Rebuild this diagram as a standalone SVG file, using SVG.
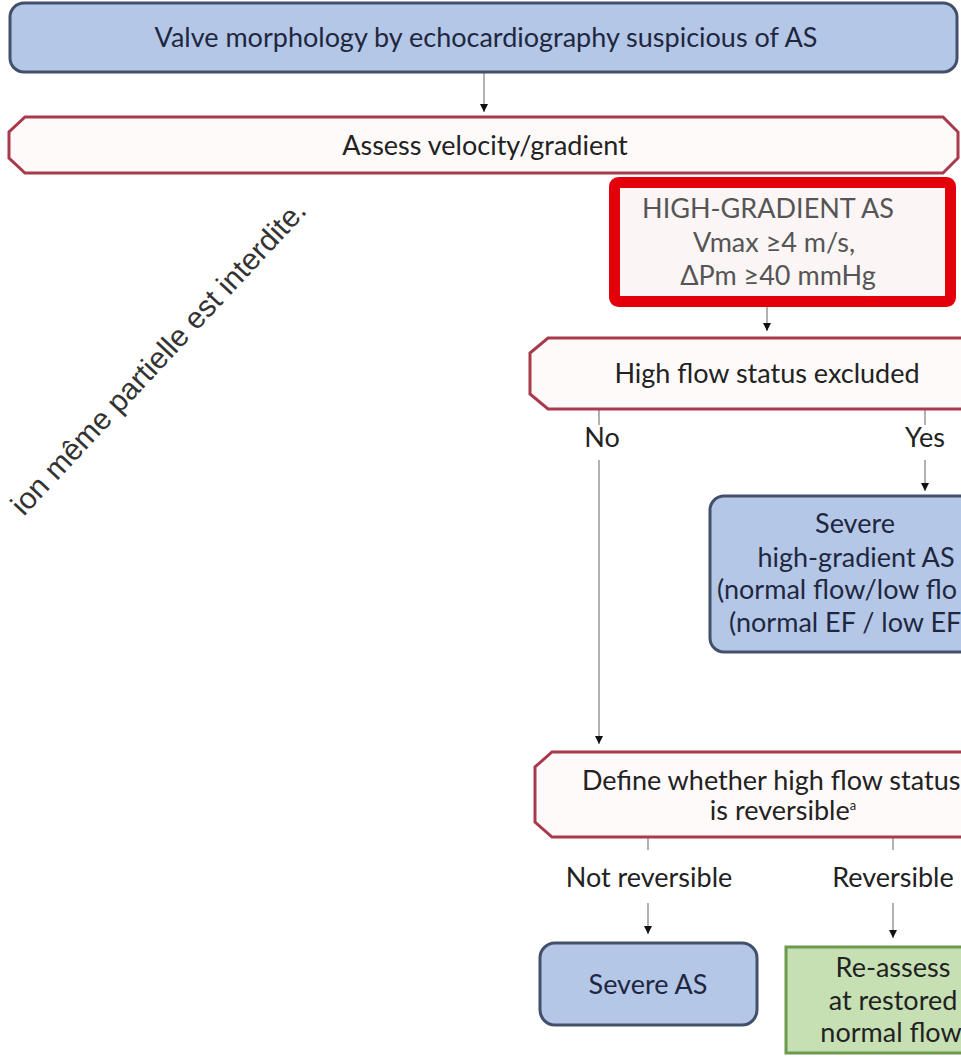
<svg xmlns="http://www.w3.org/2000/svg" width="961" height="1057" viewBox="0 0 961 1057">
<defs>
<marker id="ah" viewBox="0 0 10 10" refX="10" refY="5" markerWidth="9" markerHeight="8" markerUnits="userSpaceOnUse" orient="auto"><path d="M0,0 L10,5 L0,10 z" fill="#111"/></marker>
<style>
.t{font-family:Lato,"Liberation Sans",sans-serif;font-size:27px;fill:#222;text-anchor:middle}
.ts{text-anchor:start}
.blue{fill:#b4c7e7;stroke:#43506b;stroke-width:3}
.hex{fill:#fffafa;stroke:#a83a4c;stroke-width:3}
.green{fill:#c6e0b4;stroke:#6b9a4c;stroke-width:3}
.red{fill:#fbf5f5;stroke:#e3000b;stroke-width:11}
.grey{fill:#555}
.navy{fill:#1f2740}
.conn line{stroke:#888;stroke-width:1.3}
.wm{font-family:"Liberation Sans",Arial,sans-serif;font-size:30px;fill:#333}
</style>
</defs>
<rect width="961" height="1057" fill="#fff"/>
<text class="wm" text-anchor="end" transform="translate(308,212) rotate(-47)">ion même partielle est interdite.</text>

<g id="connectors" class="conn">
<line x1="484" y1="72" x2="484" y2="112" marker-end="url(#ah)"/>
<line x1="767" y1="307" x2="767" y2="331" marker-end="url(#ah)"/>
<line x1="599" y1="410" x2="599" y2="425"/>
<line x1="599" y1="460" x2="599" y2="744" marker-end="url(#ah)"/>
<line x1="925" y1="410" x2="925" y2="425"/>
<line x1="925" y1="460" x2="925" y2="491" marker-end="url(#ah)"/>
<line x1="648" y1="837" x2="648" y2="850"/>
<line x1="648" y1="903" x2="648" y2="934" marker-end="url(#ah)"/>
<line x1="893" y1="837" x2="893" y2="850"/>
<line x1="893" y1="903" x2="893" y2="938" marker-end="url(#ah)"/>
</g>

<g id="n1">
<rect class="blue" x="10" y="3" width="947" height="69" rx="14"/>
<text class="t navy" x="486" y="47">Valve morphology by echocardiography suspicious of AS</text>
</g>
<g id="n2">
<polygon class="hex" points="25,117 943,117 958,132 958,158 943,173 25,173 9,158 9,132"/>
<text class="t" x="485" y="155">Assess velocity/gradient</text>
</g>
<g id="n3">
<rect class="red" x="614.5" y="182.5" width="336" height="119" rx="4"/>
<text class="t grey" x="768" y="218" font-size="28">HIGH-GRADIENT AS</text>
<text class="t grey" x="774" y="252">Vmax ≥4 m/s,</text>
<text class="t grey" x="778" y="285">ΔPm ≥40 mmHg</text>
</g>
<g id="n4">
<polygon class="hex" points="548,338 990,338 1005,353 1005,394 990,409 548,409 530,394 530,353"/>
<text class="t" x="767" y="383">High flow status excluded</text>
</g>
<g id="lbl-no"><text class="t" x="602" y="447">No</text></g>
<g id="lbl-yes"><text class="t" x="925" y="447">Yes</text></g>
<g id="n5">
<rect class="blue" x="710" y="496" width="300" height="156" rx="14"/>
<text class="t navy" x="855" y="533">Severe</text>
<text class="t navy" x="856" y="567">high-gradient AS</text>
<text class="t ts navy" x="717" y="599">(normal flow/low flo</text>
<text class="t ts navy" x="729" y="632">(normal EF / low EF</text>
</g>
<g id="n6">
<polygon class="hex" points="552,752 1020,752 1035,767 1035,822 1020,837 552,837 535,822 535,767"/>
<text class="t ts" x="582" y="790">Define whether high flow status</text>
<text class="t" x="783" y="820">is reversible<tspan font-size="13" dy="-10">a</tspan></text>
</g>
<g id="lbl-notrev"><text class="t" x="649" y="887">Not reversible</text></g>
<g id="lbl-rev"><text class="t" x="893" y="887">Reversible</text></g>
<g id="n7">
<rect class="blue" x="540" y="943" width="217" height="82" rx="15"/>
<text class="t navy" x="648" y="994">Severe AS</text>
</g>
<g id="n8">
<rect class="green" x="786" y="947" width="220" height="106"/>
<text class="t" x="893" y="977">Re-assess</text>
<text class="t" x="893" y="1010">at restored</text>
<text class="t" x="891" y="1042">normal flow</text>
</g>
</svg>
